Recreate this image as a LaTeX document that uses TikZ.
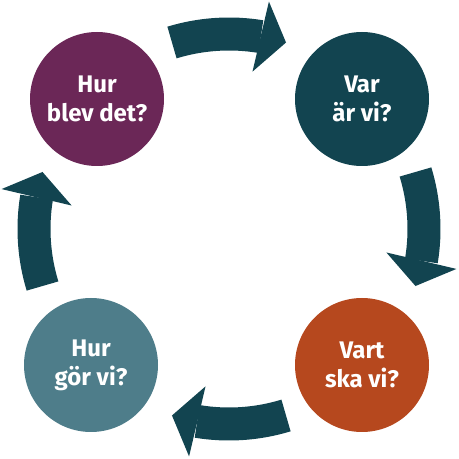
\documentclass[tikz,border=0pt]{standalone}
\usepackage{fontspec}
\setsansfont{Fira Sans}
\usetikzlibrary{arrows.meta}
\usetikzlibrary{bending}
\definecolor{plum}{HTML}{6B2757}
\definecolor{deepteal}{HTML}{124450}
\definecolor{rust}{HTML}{B6481E}
\definecolor{slateteal}{HTML}{4E7D8A}

\begin{document}
\begin{tikzpicture}[
  x=1pt, y=1pt,
  stage/.style={circle, minimum size=134pt, inner sep=0pt, align=center, text=white,
    font=\sffamily\bfseries\fontsize{24}{29}\selectfont},
  cyclearrow/.style={draw=deepteal, line width=33pt,
    -{Triangle[width=72pt, length=26pt, line width=0pt]}}
]
\useasboundingbox (0,0) rectangle (459,459);
\coordinate (c) at (229,230);

\node[stage, fill=plum] (blev) at (97,360) {Hur\\blev det?};
\node[stage, fill=deepteal] (var) at (362,360) {Var\\är vi?};
\node[stage, fill=rust] (vart) at (362,94) {Vart\\ska vi?};
\node[stage, fill=slateteal] (gor) at (91,94) {Hur\\gör vi?};

\draw[cyclearrow] ([shift={(107:195pt)}]c) arc[start angle=107, end angle=73, radius=195pt];
\draw[cyclearrow] ([shift={(17:195pt)}]c) arc[start angle=17, end angle=-17, radius=195pt];
\draw[cyclearrow] ([shift={(287:195pt)}]c) arc[start angle=287, end angle=253, radius=195pt];
\draw[cyclearrow] ([shift={(197:195pt)}]c) arc[start angle=197, end angle=163, radius=195pt];

\end{tikzpicture}
\end{document}
